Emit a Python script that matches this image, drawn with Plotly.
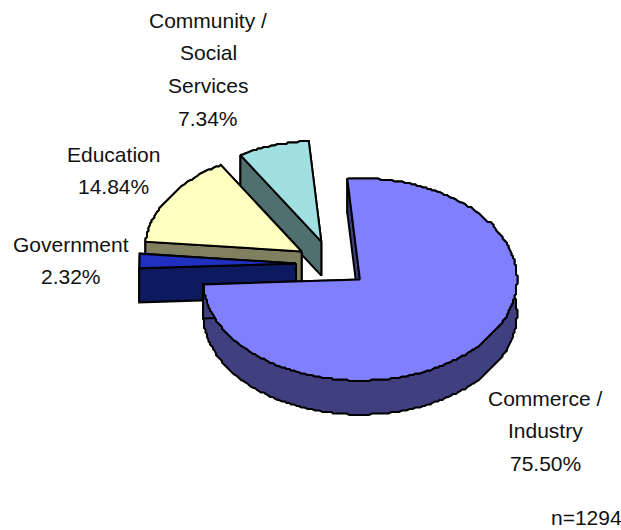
import numpy as np
import plotly.graph_objects as go

# Sector shares, clockwise from the starting angle
categories = ["Commerce / Industry", "Government", "Education", "Community / Social Services"]
shares = [75.50, 2.32, 14.84, 7.34]
top_colors = ["#8080ff", "#1f30c0", "#ffffc0", "#a0e0e0"]
side_colors = ["#404080", "#0e1a60", "#808060", "#507070"]

# One list of text rows per sector; the share is appended when drawn
label_rows = [["Commerce /", "Industry"], ["Government"], ["Education"], ["Community /", "Social", "Services"]]
label_x = [545, 71, 113, 208]
label_y = [398, 244, 154, 20]
ROW_STEP = 32.7
footnote = "n=1294"

# Projection of the tilted, exploded pie on the page
CX, CY = 332.5, 264.0
RX, RY = 157.0, 101.0
DEPTH = 34.0
EXPLODE = 36.5
START_DEG = -4.6
GRID = 1.5  # the rims are drawn as slightly stepped curves
OUTLINE = dict(color="#000000", width=2)


def rim(apex, deg):
    """Point on the ellipse of a sector whose tip sits at apex."""
    a = np.radians(deg)
    return apex[0] + RX * np.sin(a), apex[1] - RY * np.cos(a)


def polygon(fig, xs, ys, color, name):
    fig.add_trace(go.Scatter(
        x=list(xs) + [xs[0]], y=list(ys) + [ys[0]],
        mode="lines", fill="toself", fillcolor=color,
        line=OUTLINE, name=name, hoverinfo="name", showlegend=False,
    ))


fig = go.Figure()

edges = START_DEG + np.concatenate([[0], np.cumsum(shares)]) * 3.6
# Back sectors go first so the nearer ones paint over them
for i in [3, 2, 1, 0]:
    a0, a1 = edges[i], edges[i + 1]
    mid = np.radians((a0 + a1) / 2)
    apex = (CX + EXPLODE * np.sin(mid), CY - EXPLODE * RY / RX * np.cos(mid))
    arc = np.linspace(a0, a1, max(8, int(a1 - a0)))
    ax, ay = zip(*[rim(apex, d) for d in arc])
    # Snap the interior of the rim to the grid, leaving both corners exact
    ax = [ax[0]] + [round(v / GRID) * GRID for v in ax[1:-1]] + [ax[-1]]
    ay = [ay[0]] + [round(v / GRID) * GRID for v in ay[1:-1]] + [ay[-1]]

    # Curved wall first, then the cut faces, then the top surface
    wall_x = ax + ax[::-1]
    wall_y = ay + [v + DEPTH for v in ay[::-1]]
    polygon(fig, wall_x, wall_y, side_colors[i], categories[i])
    for d in (a1, a0):
        ex, ey = rim(apex, d)
        polygon(fig, [apex[0], ex, ex, apex[0]],
                [apex[1], ey, ey + DEPTH, apex[1] + DEPTH], side_colors[i], categories[i])
    polygon(fig, [apex[0]] + ax, [apex[1]] + ay, top_colors[i], categories[i])

annotations = []
for rows, share, x, y in zip(label_rows, shares, label_x, label_y):
    for n, row in enumerate(rows + [f"{share:.2f}%"]):
        annotations.append(dict(
            x=x, y=y + n * ROW_STEP, text=row, showarrow=False,
            xanchor="center", yanchor="middle",
        ))
annotations.append(dict(x=586, y=517, text=footnote, showarrow=False,
                        xanchor="center", yanchor="middle"))

fig.update_layout(
    width=621, height=530,
    margin=dict(l=0, r=0, t=0, b=0),
    paper_bgcolor="#ffffff", plot_bgcolor="#ffffff",
    font=dict(family="Liberation Sans, Arial, sans-serif", size=21, color="#111111"),
    xaxis=dict(range=[0, 621], visible=False, fixedrange=True),
    yaxis=dict(range=[530, 0], visible=False, fixedrange=True),
    annotations=annotations,
    showlegend=False,
)

fig.write_html("out.html", config={"displayModeBar": False})
